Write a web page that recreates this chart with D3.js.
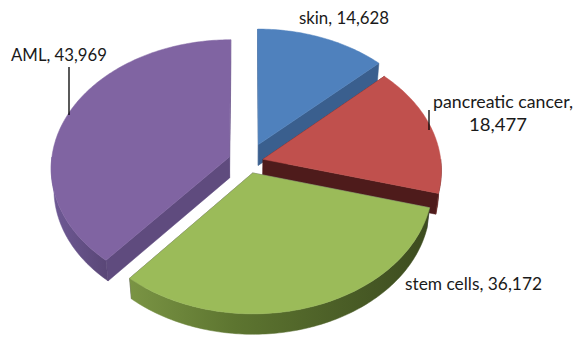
<!DOCTYPE html>
<html><head><meta charset="utf-8">
<script src="https://cdn.jsdelivr.net/npm/d3@7"></script>
<style>body{margin:0;background:#fff}svg{display:block}</style>
</head><body>
<script>
// ---- data ----
const categories = ["skin", "pancreatic cancer", "stem cells", "AML"];
const values = [14628, 18477, 36172, 43969];
const valueLabels = ["14,628", "18,477", "36,172", "43,969"];

// ---- style ----
const topColors  = ["#4F81BD", "#C0504D", "#9BBB59", "#8064A2"];
const sideColors = ["#3A5F8E", "#4E1B1B", "#5F4B7E", "#5F4B7E"];
const wallStops  = [
  [["#3A5F8E",0],["#3A5F8E",1]],
  [["#6A2624",0],["#4E1B1B",1]],
  [["#7A9444",0],["#5D7530",0.35],["#3C4B1F",1]],
  [["#6F5A96",0],["#594676",1]]
];
const explode = [0.15, 0.087, 0.089, 0.112];

const W = 574, H = 339;
const cx = 248, cy = 162, S = 178;
const sinP = 0.717, cosP = Math.sqrt(1 - sinP*sinP), D = 8.6, depth = 0.17;

const svg = d3.select("body").append("svg").attr("width", W).attr("height", H);
const defs = svg.append("defs");

const xScale = d3.scaleLinear().domain([-1, 1]).range([cx - S, cx + S]);
const yScale = d3.scaleLinear().domain([-1, 1]).range([cy + S, cy - S]);

function proj(X, Z, Y) {
  const v = Z * sinP + Y * cosP;
  const w = -Z * cosP + Y * sinP;
  const s = D / (D - w);
  return [xScale(s * X), yScale(s * v)];
}

const pie = d3.pie().sort(null).value(d => d);
const arcs = pie(values).map((a, i) => {
  const mid = (a.startAngle + a.endAngle) / 2;
  return {i, a0: a.startAngle, a1: a.endAngle,
          ox: explode[i] * Math.sin(mid), oz: explode[i] * Math.cos(mid)};
});

function rim(d, a, Y) { return proj(d.ox + Math.sin(a), d.oz + Math.cos(a), Y); }
function apex(d, Y) { return proj(d.ox, d.oz, Y); }
function arcPts(d, a0, a1, Y) {
  const n = Math.max(2, Math.ceil((a1 - a0) / (Math.PI / 180)) + 1);
  return d3.range(n).map(k => rim(d, a0 + (a1 - a0) * k / (n - 1), Y));
}
const line = d3.line().curve(d3.curveLinearClosed);

const order = [0, 1, 3, 2];
order.forEach(i => {
  const d = arcs[i];
  const g = svg.append("g");
  [d.a0, d.a1].forEach(a => {
    g.append("path")
      .attr("d", line([apex(d, 0), rim(d, a, 0), rim(d, a, -depth), apex(d, -depth)]))
      .attr("fill", sideColors[i]).attr("stroke", sideColors[i]).attr("stroke-width", 0.5);
  });
  const w0 = Math.max(d.a0, Math.PI / 2), w1 = Math.min(d.a1, 3 * Math.PI / 2);
  if (w1 > w0) {
    const topP = arcPts(d, w0, w1, 0), botP = arcPts(d, w0, w1, -depth).reverse();
    const all = topP.concat(botP);
    const xs = all.map(p => p[0]);
    const gid = "wall" + i;
    const lg = defs.append("linearGradient").attr("id", gid)
      .attr("gradientUnits", "userSpaceOnUse")
      .attr("x1", d3.min(xs)).attr("x2", d3.max(xs)).attr("y1", 0).attr("y2", 0);
    wallStops[i].forEach(s => lg.append("stop").attr("offset", s[1]).attr("stop-color", s[0]));
    g.append("path").attr("d", line(all))
      .attr("fill", `url(#${gid})`).attr("stroke", `url(#${gid})`).attr("stroke-width", 0.5);
  }
  const topPts = [apex(d, 0)].concat(arcPts(d, d.a0, d.a1, 0));
  g.append("path").attr("d", line(topPts))
    .attr("fill", topColors[i]).attr("stroke", topColors[i]).attr("stroke-width", 0.5);
});

// ---- labels ----
const labelLayout = [
  {lines: [[299, 24, 90]]},
  {lines: [[433, 108, 140], [469, 131, 58]], leader: [429, 110, 130]},
  {lines: [[405, 290, 137]]},
  {lines: [[11, 61, 96]], leader: [69, 67, 115]}
];
const labelTexts = categories.map((c, i) => i === 1 ? [c + ",", valueLabels[i]] : [c + ", " + valueLabels[i]]);
labelLayout.forEach((L, i) => {
  L.lines.forEach((ln, k) => {
    svg.append("text").attr("x", ln[0]).attr("y", ln[1])
      .attr("textLength", ln[2]).attr("lengthAdjust", "spacingAndGlyphs")
      .attr("font-family", "Lato, 'Open Sans', sans-serif").attr("font-size", 18)
      .attr("fill", "#1a1a1a").text(labelTexts[i][k]);
  });
  if (L.leader) {
    svg.append("line").attr("x1", L.leader[0]).attr("x2", L.leader[0])
      .attr("y1", L.leader[1]).attr("y2", L.leader[2])
      .attr("stroke", "#000").attr("stroke-width", 1.3);
  }
});
</script>
</body></html>
